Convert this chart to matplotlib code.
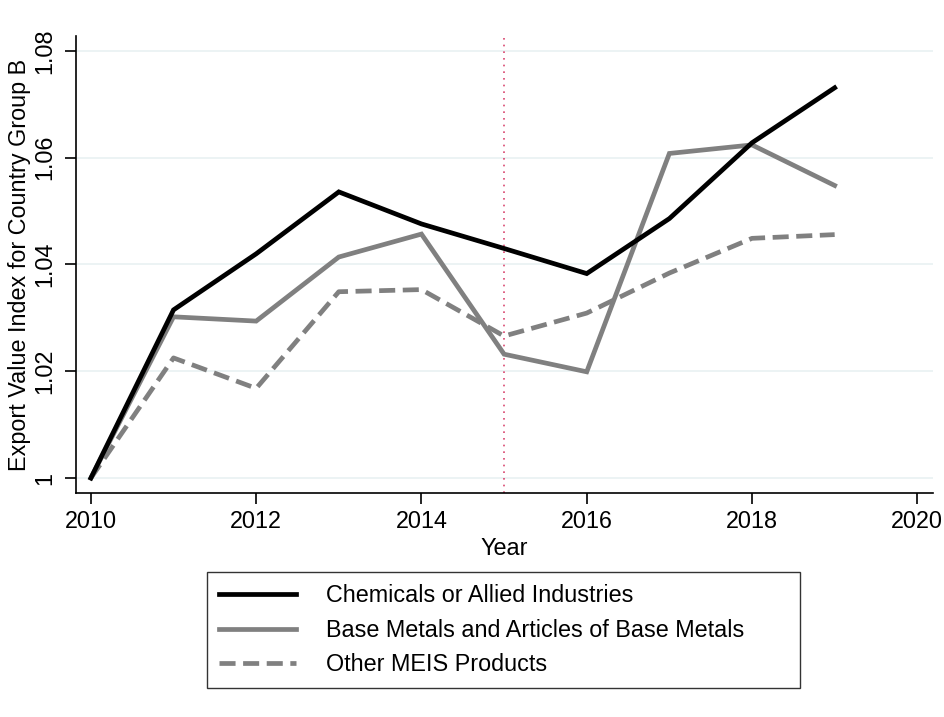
import matplotlib
matplotlib.use("Agg")
import matplotlib.pyplot as plt

years = [2010, 2011, 2012, 2013, 2014, 2015, 2016, 2017, 2018, 2019]
chemicals = [1.0, 1.0315, 1.042, 1.0536, 1.0476, 1.043, 1.0383, 1.0486, 1.0628, 1.0731]
base_metals = [1.0, 1.0302, 1.0294, 1.0414, 1.0457, 1.0232, 1.0199, 1.0608, 1.0624, 1.0548]
other_meis = [1.0, 1.0225, 1.0168, 1.0349, 1.0353, 1.0266, 1.0309, 1.0384, 1.0449, 1.0456]

x_ticks = [2010, 2012, 2014, 2016, 2018, 2020]
y_ticks = [1.0, 1.02, 1.04, 1.06, 1.08]
y_tick_labels = ["1", "1.02", "1.04", "1.06", "1.08"]

plt.rcParams['font.family'] = ['Liberation Sans', 'DejaVu Sans']
fs = 16.8

fig = plt.figure(figsize=(9.45, 7.17), dpi=100)
ax = fig.add_axes([76 / 945, 1 - 493 / 717, (933 - 76) / 945, (493 - 36) / 717])

for y in y_ticks:
    ax.axhline(y, color='#eaf2f3', lw=1.3, zorder=0)
ax.axvline(2015, color='#d9466e', lw=1.2, ls=(0, (1, 3)), zorder=1)

ax.plot(years, chemicals, color='black', lw=3.4, label='Chemicals or Allied Industries',
        solid_joinstyle='miter', zorder=3)
ax.plot(years, base_metals, color='#808080', lw=3.4, label='Base Metals and Articles of Base Metals',
        solid_joinstyle='miter', zorder=2)
ax.plot(years, other_meis, color='#808080', lw=3.4, ls=(0, (3.4, 1.6)), label='Other MEIS Products',
        zorder=2)

ax.set_xlim(2009.82, 2020.19)
ax.set_ylim(0.9972, 1.0828)
ax.set_xticks(x_ticks)
ax.set_yticks(y_ticks)
ax.set_yticklabels(y_tick_labels, rotation=90, va='center')
ax.tick_params(labelsize=fs, length=8, width=1.2, pad=4)
ax.tick_params(axis='y', pad=6)
for s in ['top', 'right']:
    ax.spines[s].set_visible(False)
for s in ['left', 'bottom']:
    ax.spines[s].set_linewidth(1.2)

ax.set_xlabel('Year', fontsize=fs, labelpad=3)
ax.set_ylabel('Export Value Index for Country Group B', fontsize=fs, labelpad=2)

leg = fig.legend(loc='lower left', mode='expand',
                 bbox_to_anchor=(207 / 945, 1 - 688 / 717, 593 / 945, 115 / 717), fontsize=fs,
                 frameon=True, fancybox=False, edgecolor='black', handlelength=3.3,
                 borderpad=0.5, labelspacing=0.5, handletextpad=1.3, borderaxespad=0)
leg.get_frame().set_linewidth(1.0)

fig.savefig('out.png', dpi=100)
